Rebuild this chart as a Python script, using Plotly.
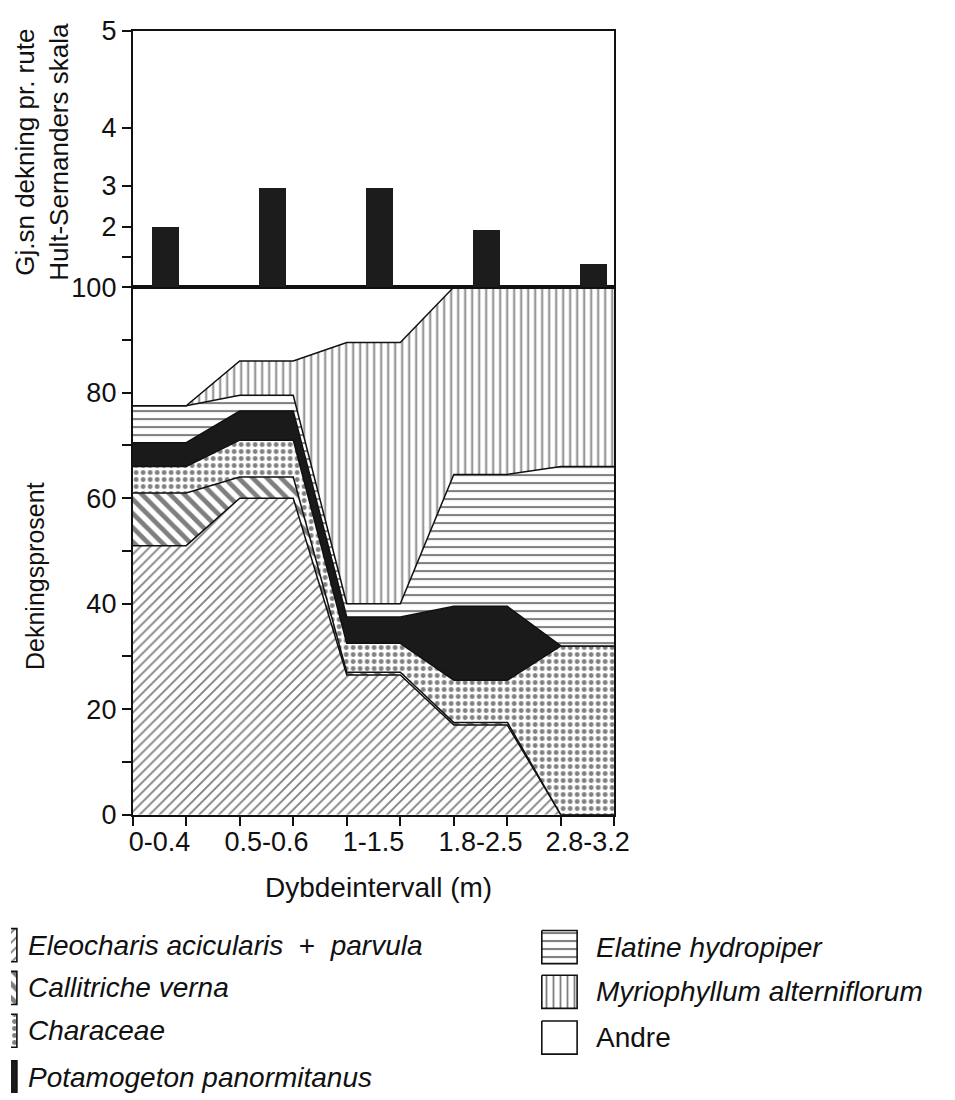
import numpy as np
import plotly.graph_objects as go

W, H = 955, 1100

# ---------------- data ----------------
categories = ["0-0.4", "0.5-0.6", "1-1.5", "1.8-2.5", "2.8-3.2"]

# upper panel: mean cover per plot (Hult-Sernander scale)
hs_mean = [2.0, 2.95, 2.95, 1.9, 0.77]
hs_tick_values = [1, 2, 3, 4, 5]
hs_tick_text = ["", "2", "3", "4", "5"]

# lower panel: cover percent (stacked) per species
species = [
    "Eleocharis acicularis + parvula",
    "Callitriche verna",
    "Characeae",
    "Potamogeton panormitanus",
    "Elatine hydropiper",
    "Myriophyllum alterniflorum",
    "Andre",
]
eleocharis = [51, 60, 26.5, 17, 0]
callitriche = [10, 4, 0.5, 0.5, 0]
characeae = [5, 7, 5.5, 8, 32]
potamogeton = [4.5, 5.5, 5, 14, 0]
elatine = [7, 3, 2.5, 25, 34]
myriophyllum = [0, 6.5, 49.5, 35.5, 34]
andre = [22.5, 14, 10.5, 0, 0]
series = [eleocharis, callitriche, characeae, potamogeton, elatine, myriophyllum, andre]

# ---------------- styles ----------------
FONT = "Liberation Sans, Arial, Helvetica, sans-serif"
INK = "#111111"

# non-linear Hult-Sernander axis (scale positions, in axis units)
hs_scale_levels = [0, 1, 2, 3, 4, 5]
hs_scale_pos = [0, 30, 60, 101, 159, 256]

styles = [
    dict(fillcolor="white", fillpattern=dict(shape="/", fgcolor="black", bgcolor="white", size=7, solidity=0.26)),
    dict(fillcolor="white", fillpattern=dict(shape="\\", fgcolor="black", bgcolor="white", size=10, solidity=0.48)),
    dict(fillcolor="white", fillpattern=dict(shape=".", fgcolor="black", bgcolor="white", size=7, solidity=0.38)),
    dict(fillcolor="#1a1a1a"),
    dict(fillcolor="white", fillpattern=dict(shape="-", fgcolor="black", bgcolor="white", size=8, solidity=0.26)),
    dict(fillcolor="white", fillpattern=dict(shape="|", fgcolor="black", bgcolor="white", size=7, solidity=0.26)),
    dict(fillcolor="white"),
]

n = len(categories)
cat_pos = np.arange(n) * 2 + 0.5          # category centres on a 0..9 axis
x_edges = np.repeat(np.arange(n) * 2, 2) + np.tile([0, 1], n)  # flat step per category

fig = go.Figure()

# stacked areas (lower panel)
for name, vals, st in zip(species, series, styles):
    fig.add_trace(go.Scatter(
        x=x_edges, y=np.repeat(vals, 2),
        stackgroup="cover", mode="lines", name=name,
        line=dict(color=INK, width=1.5),
        xaxis="x", yaxis="y", showlegend=False,
        hovertemplate=name + ": %{y}%<extra></extra>",
        **st,
    ))

# bars (upper panel)
fig.add_trace(go.Bar(
    x=cat_pos, y=np.interp(hs_mean, hs_scale_levels, hs_scale_pos),
    width=0.5, marker=dict(color="#1c1c1c", line=dict(width=0)),
    customdata=hs_mean, hovertemplate="%{customdata}<extra></extra>",
    xaxis="x2", yaxis="y2", showlegend=False,
))

# manual legend (swatches)
left_rows = [948, 992, 1036, 1084]
right_rows = [950, 996, 1043]
legend_items = []
for i, r in enumerate(left_rows):
    legend_items.append((i, -20, 6, r))
for j, r in enumerate(right_rows):
    legend_items.append((4 + j, 541, 577, r))
for idx, x0, x1, yc in legend_items:
    y0, y1 = yc - 17, yc + 17
    fig.add_trace(go.Scatter(
        x=[x0, x1, x1, x0, x0], y=[y0, y0, y1, y1, y0],
        fill="toself", mode="lines", line=dict(color=INK, width=1.6),
        xaxis="x3", yaxis="y3", showlegend=False, hoverinfo="skip",
        **styles[idx],
    ))

legend_labels = [
    "<i>Eleocharis acicularis</i>\u00a0\u00a0+\u00a0\u00a0<i>parvula</i>",
    "<i>Callitriche verna</i>",
    "<i>Characeae</i>",
    "<i>Potamogeton panormitanus</i>",
    "<i>Elatine hydropiper</i>",
    "<i>Myriophyllum alterniflorum</i>",
    "Andre",
]
annotations = []
for (idx, x0, x1, yc) in legend_items:
    tx = 15 if idx < 4 else 594
    annotations.append(dict(
        text=legend_labels[idx], x=tx / W, y=1 - yc / H, xref="paper", yref="paper",
        xanchor="left", yanchor="middle", showarrow=False,
        font=dict(family=FONT, size=28, color=INK),
    ))

annotations += [
    dict(text="Gj.sn dekning pr. rute<br>Hult-Sernanders skala", textangle=-90,
         x=32 / W, y=1 - 132 / H, xref="paper", yref="paper", showarrow=False,
         xanchor="center", yanchor="middle", font=dict(family=FONT, size=26, color=INK)),
    dict(text="Dekningsprosent", textangle=-90,
         x=25 / W, y=1 - 569 / H, xref="paper", yref="paper", showarrow=False,
         xanchor="center", yanchor="middle", font=dict(family=FONT, size=25, color=INK)),
    dict(text="Dybdeintervall (m)",
         x=375 / W, y=1 - 889 / H, xref="paper", yref="paper", showarrow=False,
         xanchor="center", yanchor="middle", font=dict(family=FONT, size=28, color=INK)),
]

xd = [124 / W, 615 / W]
y_top, y_mid, y_bot = 8, 271.5, 814
axis_common = dict(showline=True, linecolor=INK, linewidth=1.7, mirror=True,
                   showgrid=False, zeroline=False,
                   tickfont=dict(family=FONT, size=27, color=INK))

fig.update_layout(
    width=W, height=H,
    margin=dict(l=0, r=0, t=0, b=0),
    paper_bgcolor="white", plot_bgcolor="white",
    showlegend=False,
    bargap=0,
    annotations=annotations,
    xaxis=dict(domain=xd, anchor="y", range=[0, 9],
               tickvals=cat_pos, ticktext=categories, ticks="", ticklabelstandoff=2,
               minor=dict(ticks="outside", tick0=0, dtick=1, ticklen=9,
                          tickwidth=1.7, tickcolor=INK),
               **axis_common),
    yaxis=dict(domain=[(H - y_bot) / H, (H - y_mid) / H], anchor="x", range=[0, 100],
               tickvals=[0, 20, 40, 60, 80, 100], ticks="outside", ticklen=9,
               tickwidth=1.7, tickcolor=INK,
               minor=dict(ticks="outside", tick0=0, dtick=10, ticklen=9,
                          tickwidth=1.7, tickcolor=INK),
               **axis_common),
    xaxis2=dict(domain=xd, anchor="y2", range=[-0.1, 8.9],
                showticklabels=False, ticks="", **axis_common),
    yaxis2=dict(domain=[(H - y_mid) / H, (H - y_top) / H], anchor="x2",
                range=[0, hs_scale_pos[-1]],
                tickvals=np.interp(hs_tick_values, hs_scale_levels, hs_scale_pos),
                ticktext=hs_tick_text, ticks="outside", ticklen=9,
                tickwidth=1.7, tickcolor=INK, **axis_common),
    xaxis3=dict(domain=[0, 1], anchor="y3", range=[0, W], visible=False),
    yaxis3=dict(domain=[0, (H - 915) / H], anchor="x3", range=[H, 915], visible=False),
)

fig.write_html("out.html")
